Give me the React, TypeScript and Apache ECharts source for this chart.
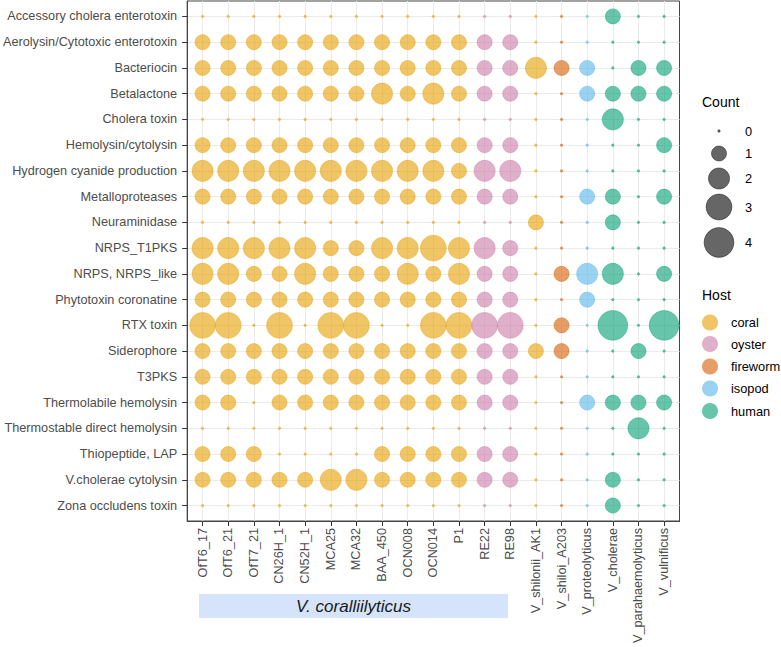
import React, { useEffect, useRef } from "react";
import * as echarts from "echarts";

const strains = [
  "OfT6_17", "OfT6_21", "OfT7_21", "CN26H_1", "CN52H_1", "MCA25", "MCA32",
  "BAA_450", "OCN008", "OCN014", "P1", "RE22", "RE98", "V_shilonii_AK1",
  "V_shiloi_A203", "V_proteolyticus", "V_cholerae", "V_parahaemolyticus", "V_vulnificus",
];
const strainHost = [
  "coral", "coral", "coral", "coral", "coral", "coral", "coral", "coral", "coral",
  "coral", "coral", "oyster", "oyster", "coral", "fireworm", "isopod", "human", "human", "human",
];
const features = [
  "Accessory cholera enterotoxin",
  "Aerolysin/Cytotoxic enterotoxin",
  "Bacteriocin",
  "Betalactone",
  "Cholera toxin",
  "Hemolysin/cytolysin",
  "Hydrogen cyanide production",
  "Metalloproteases",
  "Neuraminidase",
  "NRPS_T1PKS",
  "NRPS, NRPS_like",
  "Phytotoxin coronatine",
  "RTX toxin",
  "Siderophore",
  "T3PKS",
  "Thermolabile hemolysin",
  "Thermostable direct hemolysin",
  "Thiopeptide, LAP",
  "V.cholerae cytolysin",
  "Zona occludens toxin",
];
// counts[feature][strain]
const counts = [
  [0, 0, 0, 0, 0, 0, 0, 0, 0, 0, 0, 0, 0, 0, 0, 0, 1, 0, 0],
  [1, 1, 1, 1, 1, 1, 1, 1, 1, 1, 1, 1, 1, 0, 0, 0, 0, 0, 0],
  [1, 1, 1, 1, 1, 1, 1, 1, 1, 1, 1, 1, 1, 2, 1, 1, 0, 1, 1],
  [1, 1, 1, 1, 1, 1, 1, 2, 1, 2, 1, 1, 1, 0, 0, 1, 1, 1, 1],
  [0, 0, 0, 0, 0, 0, 0, 0, 0, 0, 0, 0, 0, 0, 0, 0, 2, 0, 0],
  [1, 1, 1, 1, 1, 1, 1, 1, 1, 1, 1, 1, 1, 0, 0, 0, 0, 0, 1],
  [2, 2, 2, 2, 2, 2, 2, 2, 2, 2, 1, 2, 2, 0, 0, 0, 0, 0, 0],
  [1, 1, 1, 1, 1, 1, 1, 1, 1, 1, 1, 1, 1, 0, 0, 1, 1, 0, 1],
  [0, 0, 0, 0, 0, 0, 0, 0, 0, 0, 0, 0, 0, 1, 0, 0, 1, 0, 0],
  [2, 2, 2, 2, 2, 1, 1, 2, 2, 3, 2, 2, 1, 0, 0, 0, 0, 0, 0],
  [2, 2, 1, 1, 2, 1, 1, 1, 2, 1, 2, 1, 1, 0, 1, 2, 2, 0, 1],
  [1, 1, 1, 1, 1, 1, 1, 1, 1, 1, 1, 1, 1, 0, 0, 1, 0, 0, 0],
  [3, 3, 0, 3, 0, 3, 3, 0, 0, 3, 3, 3, 3, 0, 1, 0, 4, 0, 4],
  [1, 1, 1, 1, 1, 1, 1, 1, 1, 1, 1, 1, 1, 1, 1, 0, 0, 1, 0],
  [1, 1, 1, 1, 1, 1, 1, 1, 1, 1, 1, 1, 1, 0, 0, 0, 0, 0, 0],
  [1, 1, 0, 1, 1, 1, 1, 1, 1, 1, 1, 1, 1, 0, 0, 1, 1, 1, 1],
  [0, 0, 0, 0, 0, 0, 0, 0, 0, 0, 0, 0, 0, 0, 0, 0, 0, 2, 0],
  [1, 1, 1, 0, 0, 0, 0, 1, 1, 1, 1, 1, 1, 0, 0, 0, 0, 0, 0],
  [1, 1, 1, 1, 1, 2, 2, 1, 1, 1, 1, 1, 1, 0, 0, 0, 1, 0, 0],
  [0, 0, 0, 0, 0, 0, 0, 0, 0, 0, 0, 0, 0, 0, 0, 0, 1, 0, 0],
];
const hosts = ["coral", "oyster", "fireworm", "isopod", "human"];
const hostColors = ["#E69F00", "#CC79A7", "#D55E00", "#56B4E9", "#009E73"];
const countLegend = [0, 1, 2, 3, 4];
const groupLabel = "V. coralliilyticus";

const FONT = "'Liberation Sans', Arial, Helvetica, sans-serif";
const D0 = 2.5;
const DMAX = 29.8;
const MAXV = 4;
const sizeOf = (v: number) => Math.sqrt(D0 * D0 + ((DMAX * DMAX - D0 * D0) * v) / MAXV);

export default function App() {
  const ref = useRef<HTMLDivElement>(null);

  useEffect(() => {
    if (!ref.current) return;
    const chart = echarts.init(ref.current, undefined, { renderer: "svg" });

    const series: any[] = hosts.map((h, hi) => {
      const data: number[][] = [];
      strains.forEach((s, c) => {
        if (strainHost[c] !== h) return;
        features.forEach((f, r) => data.push([c, r, counts[r][c]]));
      });
      return {
        type: "scatter",
        name: h,
        z: 3,
        data,
        symbol: "circle",
        symbolSize: (d: number[]) => sizeOf(d[2]),
        itemStyle: {
          color: hostColors[hi],
          opacity: 0.6,
          borderColor: hostColors[hi],
          borderWidth: 0.7,
        },
        emphasis: { disabled: true },
        silent: true,
      };
    });

    // legend graphics
    const graphic: any[] = [];
    const countY = [131, 153.5, 178.5, 207, 242.5];
    graphic.push({
      type: "text", left: 702, top: 95,
      style: { text: "Count", font: `14px ${FONT}`, fill: "#000" },
    });
    countLegend.forEach((v, i) => {
      graphic.push({
        type: "circle",
        shape: { cx: 719, cy: countY[i], r: sizeOf(v) / 2 },
        style: { fill: "rgba(0,0,0,0.6)", stroke: "rgba(0,0,0,0.6)", lineWidth: 0.7 },
        z: 10,
      });
      graphic.push({
        type: "text", x: 745, y: countY[i],
        style: { text: String(v), font: `12.8px ${FONT}`, fill: "#000", verticalAlign: "middle" },
        z: 10,
      });
    });
    const hostY = [322.5, 344, 366.5, 388.5, 411];
    graphic.push({
      type: "text", left: 702, top: 288,
      style: { text: "Host", font: `14px ${FONT}`, fill: "#000" },
    });
    hosts.forEach((h, i) => {
      graphic.push({
        type: "circle",
        shape: { cx: 710, cy: hostY[i], r: 8 },
        style: { fill: hostColors[i], opacity: 0.6 },
        z: 10,
      });
      graphic.push({
        type: "text", x: 731, y: hostY[i],
        style: { text: h, font: `12.8px ${FONT}`, fill: "#000", verticalAlign: "middle" },
        z: 10,
      });
    });
    graphic.push({
      type: "rect",
      shape: { x: 199, y: 594, width: 309, height: 24 },
      style: { fill: "#D6E4FB" },
      z: 1,
    });
    graphic.push({
      type: "text", x: 353.5, y: 606.5,
      style: {
        text: groupLabel, font: `italic 17px ${FONT}`, fill: "#1A1A1A",
        align: "center", verticalAlign: "middle",
      },
      z: 2,
    });

    chart.setOption({
      animation: false,
      grid: {
        left: 186, top: 1, right: 101.5, bottom: 126,
        show: true, borderColor: "#444", borderWidth: 1, backgroundColor: "transparent",
      },
      xAxis: {
        type: "value",
        position: "bottom",
        min: -0.6,
        max: strains.length - 1 + 0.6,
        axisLine: { show: true, onZero: false, lineStyle: { color: "#444", width: 1 } },
        axisTick: {
          show: true, length: 5, lineStyle: { color: "#333" },
          customValues: strains.map((_, i) => i),
        },
        splitLine: { show: true, lineStyle: { color: "#EBEBEB", width: 1 } },
        axisLabel: {
          customValues: strains.map((_, i) => i),
          formatter: (v: number) => strains[Math.round(v)] ?? "",
          rotate: 90, margin: 7, color: "#4D4D4D",
          fontSize: 12.7, fontFamily: FONT,
        },
      },
      yAxis: {
        type: "value",
        position: "left",
        inverse: true,
        min: -0.6,
        max: features.length - 1 + 0.6,
        axisLine: { show: true, onZero: false, lineStyle: { color: "#444", width: 1 } },
        axisTick: {
          show: true, length: 5, lineStyle: { color: "#333" },
          customValues: features.map((_, i) => i),
        },
        splitLine: { show: true, lineStyle: { color: "#EBEBEB", width: 1 } },
        axisLabel: {
          customValues: features.map((_, i) => i),
          formatter: (v: number) => features[Math.round(v)] ?? "",
          margin: 10, color: "#4D4D4D",
          fontSize: 12.7, fontFamily: FONT,
        },
      },
      series,
      graphic,
    });

    return () => chart.dispose();
  }, []);

  return (
    <div
      ref={ref}
      style={{ position: "fixed", left: 0, top: 0, width: 781, height: 647, background: "#fff" }}
    />
  );
}
